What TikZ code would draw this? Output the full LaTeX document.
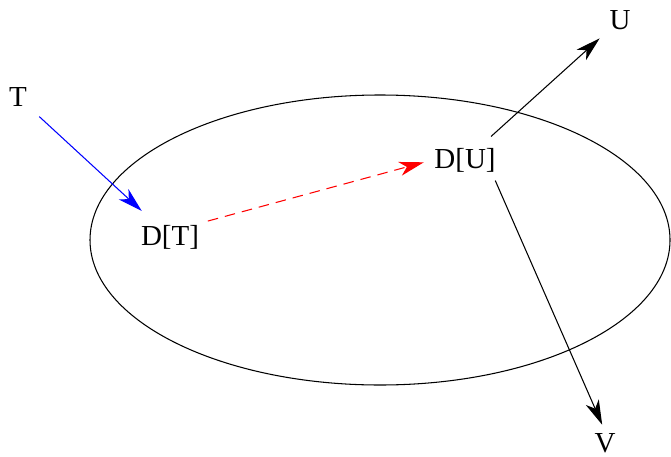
\documentclass[tikz,border=0pt]{standalone}
\usepackage{fontspec}
\setmainfont{Liberation Serif}
\usetikzlibrary{arrows.meta}
\tikzset{
  lbl/.style={font=\fontsize{16.5}{20}\selectfont, inner sep=1pt},
  arr/.style={-{Stealth[length=14pt, width=8pt, inset=4pt]}, line width=0.6pt}
}
\begin{document}
\begin{tikzpicture}[x=0.02cm, y=-0.02cm]
            \useasboundingbox (0,0) rectangle (671,456);

            \draw[line width=0.6pt] (380,240) ellipse (290 and 145);

            \node[lbl] (T) at (18,97) {T};
            \node[lbl] (DT) at (170,237) {D[T]};
            \node[lbl] (DU) at (465,160) {D[U]};
            \node[lbl] (U) at (620,20) {U};
            \node[lbl] (V) at (605,443) {V};

            \draw[arr, blue] (T) -- (DT) [shorten <=8pt, shorten >=10pt];
            \draw[arr, red, dashed, dash pattern=on 6pt off 4pt] (DT.north east) -- (DU.west) [shorten <=4pt, shorten >=5pt];
            \draw[arr] (DU) -- (U) [shorten <=8pt, shorten >=6pt];
            \draw[arr] ([xshift=-3pt]DU.south east) -- (V.north) [shorten <=4pt, shorten >=4pt];
        \end{tikzpicture}
\end{document}
